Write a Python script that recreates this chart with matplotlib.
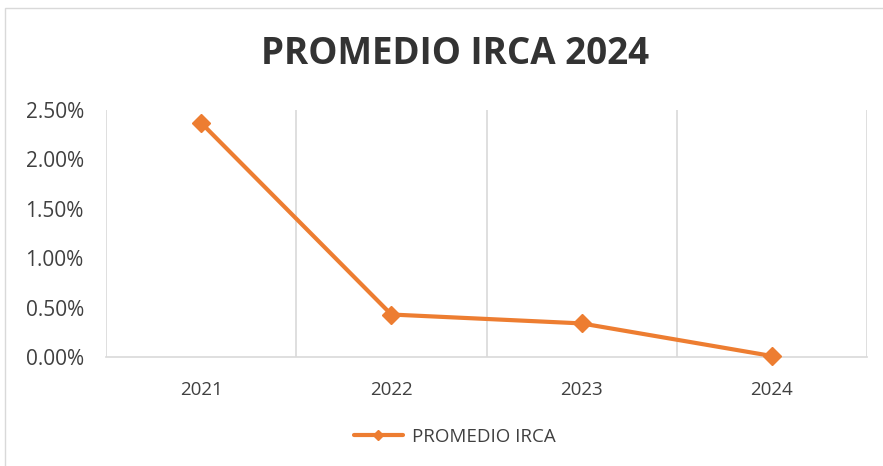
import matplotlib.pyplot as plt
from matplotlib.ticker import FuncFormatter, FixedLocator
from matplotlib.patches import Rectangle

years = ['2021', '2022', '2023', '2024']
irca = [2.37, 0.43, 0.34, 0.01]  # porcentaje
series_name = 'PROMEDIO IRCA'
title = 'PROMEDIO IRCA 2024'

orange = '#ED7D31'
text_col = '#404040'
grid_col = '#D9D9D9'

plt.rcParams['font.family'] = ['Open Sans', 'DejaVu Sans']

fig = plt.figure(figsize=(8.83, 4.66), dpi=100)
ax = fig.add_axes([106 / 883, 1 - 357 / 466, (867 - 106) / 883, (357 - 110) / 466])

# borde del gráfico
fig.patches.append(Rectangle((5 / 883, -0.1), 1.2, (466 - 8) / 466 + 0.1,
                             transform=fig.transFigure, fill=False,
                             edgecolor='#D9D9D9', linewidth=1))

x = list(range(len(years)))
ax.plot(x, irca, color=orange, linewidth=3, marker='D', markersize=9,
        label=series_name, solid_capstyle='round', clip_on=False, zorder=3)

ax.set_xlim(-0.5, len(years) - 0.5)
ax.set_ylim(0, 2.5)
ax.set_yticks([0, 0.5, 1.0, 1.5, 2.0, 2.5])
ax.yaxis.set_major_formatter(FuncFormatter(lambda v, p: f'{v:.2f}%'))
ax.set_xticks(x)
ax.set_xticklabels(years)
ax.xaxis.set_minor_locator(FixedLocator([i - 0.5 for i in range(len(years) + 1)]))
ax.grid(which='minor', axis='x', color=grid_col, linewidth=1.2)
ax.tick_params(axis='both', which='both', length=0, colors=text_col)
ax.tick_params(axis='y', labelsize=15, pad=16)
ax.tick_params(axis='x', labelsize=13.5, pad=17)

for s in ['top', 'right', 'left']:
    ax.spines[s].set_visible(False)
ax.spines['bottom'].set_color(grid_col)
ax.spines['bottom'].set_linewidth(1.2)

fig.text(0.515, 1 - 54 / 466, title, ha='center', va='center',
         fontsize=26.5, fontweight='bold', color='#333333')

fig.legend(loc='center', bbox_to_anchor=(0.515, 1 - 437 / 466), frameon=False,
           fontsize=13.5, labelcolor=text_col, handlelength=2.6, handletextpad=0.5,
           markerscale=0.55)

fig.savefig('out.png', dpi=100)
